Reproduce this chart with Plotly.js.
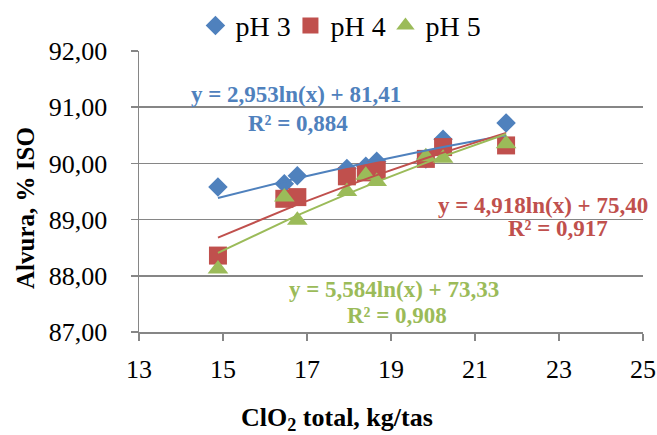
<!DOCTYPE html>
<html>
<head>
<meta charset="utf-8">
<script src="https://cdn.plot.ly/plotly-3.0.1.min.js"></script>
<style>html,body{margin:0;padding:0;background:#fff;}#chart{width:657px;height:435px;}</style>
</head>
<body>
<div id="chart"></div>
<script>
// Data
const clo2 = [14.88, 16.46, 16.77, 17.95, 18.40, 18.66, 19.83, 20.24, 21.74];
const ph3 = [89.58, 89.64, 89.78, 89.91, 89.95, 90.04, 90.08, 90.43, 90.72];
const ph4 = [88.36, 89.37, 89.40, 89.77, 89.84, 89.88, 90.08, 90.29, 90.32];
const ph5 = [88.12, 89.40, 88.99, 89.50, 89.79, 89.68, 90.12, 90.09, 90.35];
const seriesNames = ["pH 3", "pH 4", "pH 5"];
// Trendline coefficients as printed on the chart: y = a*ln(x) + b
const trendA = [2.953, 4.918, 5.584];
const trendB = [81.41, 75.40, 73.33];
const trendLabels = ["y = 2,953ln(x) + 81,41", "y = 4,918ln(x) + 75,40", "y = 5,584ln(x) + 73,33"];
const r2Labels = ["R² = 0,884", "R² = 0,917", "R² = 0,908"];
const yTicks = [87, 88, 89, 90, 91, 92];
const xTicks = [13, 15, 17, 19, 21, 23, 25];
const xTitle = "ClO<sub>2</sub> total, kg/tas";
const yTitle = "Alvura, % ISO";

const colors = ["#4F81BD", "#C0504D", "#9BBB59"];
const symbols = ["diamond", "square", "triangle-up"];
const sizes = [15, 18, 18];
const ys = [ph3, ph4, ph5];
const font = "Liberation Serif, Times New Roman, serif";

const traces = [];
ys.forEach((y, i) => {
  traces.push({
    x: clo2, y: y, type: "scatter", mode: "markers", name: seriesNames[i],
    marker: {symbol: symbols[i], size: sizes[i], color: colors[i], line: {width: 0}},
    cliponaxis: false
  });
});
ys.forEach((y, i) => {
  traces.push({
    x: clo2, y: clo2.map(v => trendA[i] * Math.log(v) + trendB[i]),
    type: "scatter", mode: "lines", showlegend: false, hoverinfo: "skip",
    line: {color: colors[i], width: 2}
  });
});

const annPos = [
  {eq: [16.74, 91.23], r2: [16.78, 90.71]},
  {eq: [22.62, 89.25], r2: [22.98, 88.84]},
  {eq: [19.07, 87.75], r2: [19.14, 87.30]}
];
const annotations = [];
annPos.forEach((p, i) => {
  annotations.push({x: p.eq[0], y: p.eq[1], xref: "x", yref: "y", text: "<b>" + trendLabels[i] + "</b>",
    showarrow: false, font: {family: font, size: 23, color: colors[i]}});
  annotations.push({x: p.r2[0], y: p.r2[1], xref: "x", yref: "y", text: "<b>" + r2Labels[i] + "</b>",
    showarrow: false, font: {family: font, size: 23, color: colors[i]}});
});
annotations.push({x: 0.392, y: -0.31, xref: "paper", yref: "paper", xanchor: "center", yanchor: "middle",
  text: "<b>" + xTitle + "</b>", showarrow: false, font: {family: font, size: 26, color: "#000"}});
annotations.push({x: -0.225, y: 0.44, xref: "paper", yref: "paper", xanchor: "center", yanchor: "middle",
  textangle: -90, text: "<b>" + yTitle + "</b>", showarrow: false, font: {family: font, size: 25, color: "#000"}});

const layout = {
  width: 657, height: 435,
  margin: {l: 139, r: 14, t: 51, b: 103, autoexpand: false},
  paper_bgcolor: "#ffffff", plot_bgcolor: "#ffffff",
  separators: ",.",
  font: {family: font, size: 26, color: "#000"},
  showlegend: true,
  legend: {orientation: "h", x: 0.112, xanchor: "left", y: 1.09, yanchor: "middle",
    font: {family: font, size: 28, color: "#000"}, itemwidth: 30, entrywidth: 50,
    bgcolor: "rgba(0,0,0,0)"},
  xaxis: {
    range: [13, 25], tickvals: xTicks, ticktext: xTicks.map(String), ticklabeloverflow: "allow",
    showgrid: false, zeroline: false, showline: true, linecolor: "#868686", linewidth: 1.5,
    ticks: "outside", ticklen: 7, tickcolor: "#868686", tickwidth: 1.5, ticklabelstandoff: 6,
    tickfont: {family: font, size: 26, color: "#000"}
  },
  yaxis: {
    range: [87, 92], tickvals: yTicks, tickformat: ".2f", ticklabeloverflow: "allow",
    showgrid: true, gridcolor: "#868686", gridwidth: 1.5, zeroline: false,
    showline: true, linecolor: "#868686", linewidth: 1.5,
    ticks: "outside", ticklen: 7, tickcolor: "#868686", tickwidth: 1.5, ticklabelstandoff: 18,
    tickfont: {family: font, size: 26, color: "#000"}
  },
  annotations: annotations
};

Plotly.newPlot("chart", traces, layout, {displayModeBar: false, staticPlot: true});
</script>
</body>
</html>
